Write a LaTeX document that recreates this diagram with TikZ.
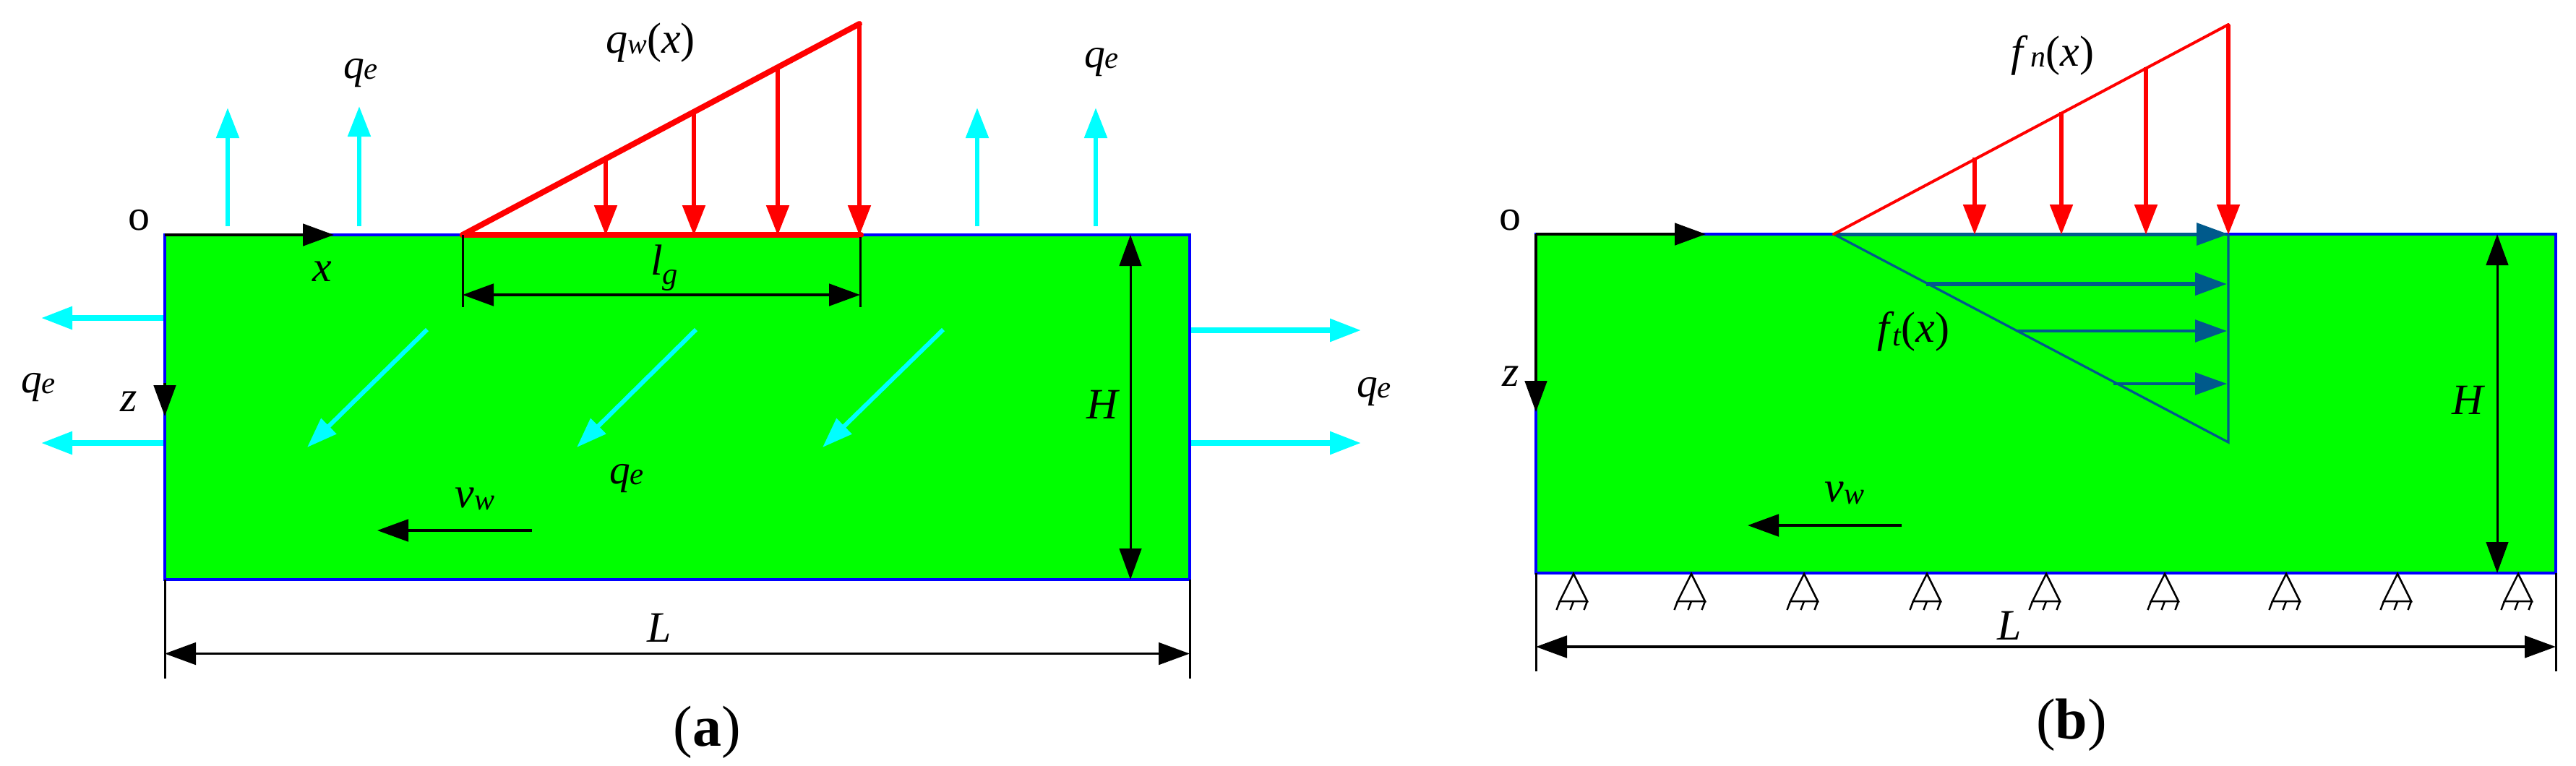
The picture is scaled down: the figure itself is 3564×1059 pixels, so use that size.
\documentclass[tikz,border=0pt]{standalone}
\usepackage{fontspec}
\setmainfont{Liberation Serif}
\usetikzlibrary{arrows.meta}
\definecolor{cgreen}{RGB}{0,255,0}
\definecolor{cblue}{RGB}{0,0,255}
\definecolor{ccyan}{RGB}{0,255,255}
\definecolor{cred}{RGB}{255,0,0}
\definecolor{cteal}{RGB}{0,90,140}
\newcommand{\fsz}[1]{\fontsize{#1}{#1}\selectfont}
% connector between two named coordinates: style, name, start, end
\newcommand{\conn}[4]{\coordinate (#2s) at (#3); \coordinate (#2e) at (#4); \draw[#1] (#2s) -- (#2e);}
\newcommand{\qe}{\fsz{11.5}\itshape q\raisebox{-0.3pt}{\fsz{8.6}e}}
\newcommand{\lp}{{\upshape(}}
\newcommand{\rp}{{\upshape)}}
\tikzset{
  x=0.2pt, y=-0.2pt,
  lab/.style={anchor=base, inner sep=0pt, outer sep=0pt, font=\fsz{12}\itshape, text=black},
  block/.style={fill=cgreen, draw=cblue, line width=0.7pt, line join=miter},
  tipB/.style={-{Triangle[length=8.6pt,width=6.1pt]}},
  tipBB/.style={{Triangle[length=8.6pt,width=6.1pt]}-{Triangle[length=8.6pt,width=6.1pt]}},
  black line/.style={draw=black, line width=0.7pt},
  thin black/.style={draw=black, line width=0.6pt},
  dim/.style={black line, tipBB},
  arr/.style={black line, tipB},
  cyan up/.style={draw=ccyan, fill=ccyan, line width=1.35pt, -{Triangle[length=8.4pt,width=6.1pt]}},
  cyan side/.style={draw=ccyan, fill=ccyan, line width=1.5pt, tipB},
  cyan diag/.style={draw=ccyan, line width=1.2pt, -{Triangle[length=8.4pt,width=5.8pt]}},
  red arrow/.style={draw=cred, line width=1.35pt, -{Triangle[length=8.4pt,width=6.1pt]}},
  red edge/.style={draw=cred, line width=1.6pt, line cap=round},
  red thin/.style={draw=cred, line width=0.8pt, line cap=round},
  teal arrow/.style={draw=cteal, -{Triangle[length=8.8pt,width=6.1pt]}},
  teal edge/.style={draw=cteal, line width=0.65pt},
  support/.style={draw=black, line width=0.5pt},
}
\newcommand{\supp}[2]{%
  \coordinate (#2a) at (#1,794);
  \coordinate (#2l) at (#1-19,832);
  \coordinate (#2r) at (#1+19,832);
  \draw[support] (#2l) -- (#2a) -- (#2r) -- cycle;
  \draw[support] (#2l) -- ++(-4.5,12);
  \draw[support] (#1,832) -- ++(-4.5,12);
  \draw[support] (#2r) -- ++(-4.5,12);
}
\begin{document}
\begin{tikzpicture}
\useasboundingbox (0,0) rectangle (3564,1059);
\fill[white] (0,0) rectangle (3564,1059);

%% ---------- panel (a) ----------
\coordinate (aTL) at (228,325); \coordinate (aBR) at (1646,802);
\draw[block] (aTL) rectangle (aBR);
% outward cyan arrows
\conn{cyan up}{au1}{315,313}{315,149}
\conn{cyan up}{au2}{497,313}{497,147}
\conn{cyan up}{au3}{1352,313}{1352,149}
\conn{cyan up}{au4}{1516,313}{1516,149}
\conn{cyan side}{al1}{226,440}{57,440}
\conn{cyan side}{al2}{226,613}{57,613}
\conn{cyan side}{ar1}{1648,457}{1883,457}
\conn{cyan side}{ar2}{1648,613}{1883,613}
\conn{cyan diag}{ad1}{591,456}{425,619}
\conn{cyan diag}{ad2}{963,456}{798,619}
\conn{cyan diag}{ad3}{1305,456}{1138,619}
% axes
\conn{arr}{ax}{228,325}{462,325}
\coordinate (azs) at (228,530); \coordinate (aze) at (228,576);
\draw[arr] (azs) -- (aze);
\draw[thin black] (aTL |- aBR) -- (228,939);
\draw[thin black] (aBR) -- (1646,939);
% load triangle
\coordinate (aO) at (640,325); \coordinate (aP) at (1189,33);
\draw[red edge] (aO) -- (aP);
\draw[red edge] (aO) -- (1191,325);
\conn{red arrow}{aq1}{838,223}{838,326}
\conn{red arrow}{aq2}{960,157}{960,326}
\conn{red arrow}{aq3}{1076,95}{1076,326}
\conn{red arrow}{aq4}{1189,33}{1189,326}
% dimensions
\draw[thin black] (aO) -- (640,425);
\draw[thin black] (1190,328) -- (1190,425);
\conn{dim}{algd}{640,408}{1190,408}
\conn{thin black, tipBB}{aHd}{1564,325}{1564,802}
\conn{dim}{aLd}{228,904.5}{1646,904.5}
\conn{arr}{avw}{736,734}{522,734}
% labels
\node[lab, font=\fsz{12}\upshape] (ao) at (192,318) {o};
\node[lab] (axl) at (446,389) {x};
\node[lab] (azl) at (178,569) {z};
\node[lab] (aq0) at (499,108) {\qe};
\node[lab] (aq5) at (1524,93) {\qe};
\node[lab] (aq6) at (53,543) {\qe};
\node[lab] (aq7) at (1901,549) {\qe};
\node[lab] (aq8) at (867,669) {\qe};
\node[lab] (aqw) at (900,73) {q\raisebox{-0.3pt}{\fsz{8}w}\lp x\rp};
\node[lab] (alg) at (919,380) {l\raisebox{-2.6pt}{\fsz{8.5}g}};
\node[lab] (aH) at (1525,579) {H};
\node[lab] (aL) at (912,888) {L};
\node[lab] (avl) at (657,702) {v\raisebox{-0.7pt}{\fsz{8.4}w}};
\node[lab, font=\fsz{16}\upshape] (acap) at (978,1032) {(\textbf{a})};

%% ---------- panel (b) ----------
\coordinate (bTL) at (2125,324); \coordinate (bBR) at (3536,793);
\draw[block] (bTL) rectangle (bBR);
\conn{arr}{bx}{2125,324}{2360,324}
\conn{arr}{bz}{2125,324}{2125,570}
\draw[thin black] (2125,793) -- (2125,929);
\draw[thin black] (bBR) -- (3536,929);
% shear triangle
\coordinate (bO) at (2537,324); \coordinate (bQ) at (3083,612);
\draw[teal edge] (bO) -- (bQ) -- (3083,324);
\conn{teal arrow, line width=1pt}{bt0}{2537,324}{3083,324}
\conn{teal arrow, line width=1.2pt}{bt1}{2665,393}{3081,393}
\conn{teal arrow, line width=0.9pt}{bt2}{2790,458}{3081,458}
\conn{teal arrow, line width=0.8pt}{bt3}{2924,531}{3081,531}
% normal triangle
\coordinate (bP) at (3083,34);
\draw[red thin] (bO) -- (bP);
\conn{red arrow}{bn1}{2732,218}{2732,325}
\conn{red arrow}{bn2}{2852,155}{2852,325}
\conn{red arrow}{bn3}{2969,93}{2969,325}
\conn{red arrow}{bn4}{3083,34}{3083,325}
% supports
\supp{2177}{s1}\supp{2340}{s2}\supp{2496}{s3}\supp{2666}{s4}\supp{2831}{s5}
\supp{2995}{s6}\supp{3163}{s7}\supp{3317}{s8}\supp{3484}{s9}
% dimensions
\conn{thin black, tipBB}{bHd}{3455,324}{3455,793}
\conn{dim}{bLd}{2125,895}{3536,895}
\conn{arr}{bvw}{2631,727}{2418,727}
% labels
\node[lab, font=\fsz{12}\upshape] (bo) at (2089,318) {o};
\node[lab] (bzl) at (2090,534) {z};
\node[lab] (bfn) at (2840,91) {f\hspace{2pt}\raisebox{-0.3pt}{\fsz{8.4}n}\lp x\rp};
\node[lab] (bft) at (2647,473) {f\hspace{1pt}\raisebox{-1pt}{\fsz{8.4}t}\lp x\rp};
\node[lab] (bH) at (3414,573) {H};
\node[lab] (bL) at (2780,885) {L};
\node[lab] (bvl) at (2552,694) {v\raisebox{-0.7pt}{\fsz{8.4}w}};
\node[lab, font=\fsz{16}\upshape] (bcap) at (2866,1022) {(\textbf{b})};
\end{tikzpicture}
\end{document}
